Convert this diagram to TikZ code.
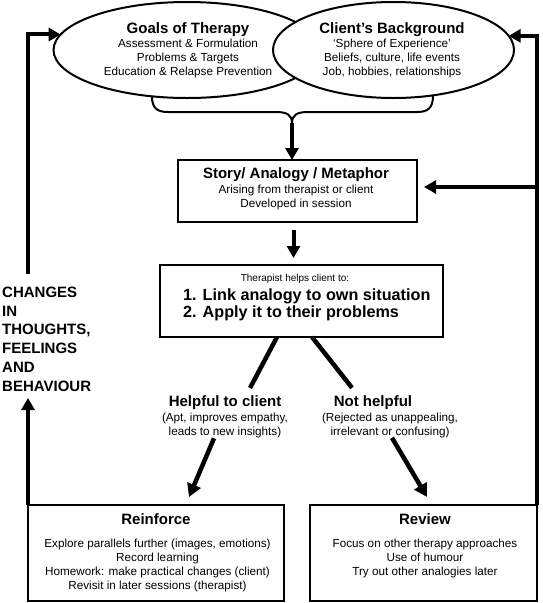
\documentclass[tikz,border=0pt]{standalone}
\usepackage{fontspec}
\setmainfont{Liberation Sans}
\usetikzlibrary{arrows.meta,shapes.geometric,calc}
\newcommand{\fsm}{\fontsize{11.7}{14}\selectfont}
\newcommand{\fsmb}{\fontsize{11.7}{13.8}\selectfont}
\newcommand{\fxs}{\fontsize{10}{12}\selectfont}
\newcommand{\fttl}{\fontsize{15}{14}\selectfont\bfseries}
\newcommand{\fbig}{\fontsize{16.2}{17}\selectfont\bfseries}
\newcommand{\fchg}{\fontsize{15}{18.8}\selectfont\bfseries}
\begin{document}
\begin{tikzpicture}[x=1pt,y=-1pt,
  ell/.style={draw, line width=2pt, ellipse, minimum height=96pt, inner sep=0pt, outer sep=0pt},
  box/.style={draw, line width=2.4pt, rectangle, inner sep=0pt, outer sep=0pt},
  txt/.style={align=center, inner sep=0pt, font=\fsm},
  ttl/.style={anchor=base, inner sep=0pt, font=\fttl},
  brace/.style={line width=2pt},
  arr/.style={line width=4pt, -{Triangle[length=12pt,width=13pt]}},
  diag/.style={line width=4.5pt},
  darr/.style={line width=4.5pt, -{Triangle[length=13pt,width=14pt]}},
]
\useasboundingbox (0,0) rectangle (542,603);

% ellipses
\node[ell, minimum width=267pt] (goals) at (187,50) {};
\node[ell, fill=white, minimum width=241pt] (bg) at (393.5,50) {};
\node[txt, anchor=north] (goalsT) at (188,22.5) {{\fttl Goals of Therapy}\\ Assessment \& Formulation\\ Problems \& Targets\\ Education \& Relapse Prevention};
\node[txt, anchor=north] (bgT) at (392,22.5) {{\fttl Client’s Background}\\ ‘Sphere of Experience’\\ Beliefs, culture, life events\\ Job, hobbies, relationships};

% story box
\node[box, minimum width=239pt, minimum height=62pt] (story) at (297.5,191) {};
\node[txt, anchor=north] (storyT) at (296,167.5) {{\fttl Story/ Analogy / Metaphor}\\[0.8pt] Arising from therapist or client\\ Developed in session};

% link box
\node[box, minimum width=283pt, minimum height=72pt] (link) at (301.5,301) {};
\node[anchor=base, inner sep=0pt, font=\fxs] (linkA) at (295,281.6) {Therapist helps client to:};
\node[anchor=north west, inner sep=0pt, align=left, font=\fbig] (linkB) at (183,288.2) {1. Link analogy to own situation\\2. Apply it to their problems};

% changes label
\node[anchor=north west, inner sep=0pt, align=left, font=\fchg] (chg) at (2,286.6) {CHANGES\\IN\\THOUGHTS,\\FEELINGS\\AND\\BEHAVIOUR};

% outcomes
\node[txt, anchor=north] (helpT) at (225,395.6) {{\fttl Helpful to client}\\[0.5pt] (Apt, improves empathy,\\ leads to new insights)};
\node[ttl] (notT) at (373,406.5) {Not helpful};
\node[txt, anchor=north] (notS) at (390,412.5) {(Rejected as unappealing,\\ irrelevant or confusing)};

% bottom boxes
\node[box, minimum width=256pt, minimum height=96pt] (reinforce) at (156,553) {};
\node[ttl] (reinT) at (156,524) {Reinforce};
\node[txt, anchor=north, font=\fsmb] (reinB) at (157.5,539) {Explore parallels further (images, emotions)\\ Record learning\\ Homework: make practical changes (client)\\ Revisit in later sessions (therapist)};
\node[box, minimum width=227pt, minimum height=96pt] (review) at (423.5,553) {};
\node[ttl] (revT) at (425,524) {Review};
\node[txt, anchor=north, font=\fsmb] (revB) at (425,539) {Focus on other therapy approaches\\ Use of humour\\ Try out other analogies later};

% coordinates
\coordinate (CHtop) at (28,274);
\coordinate (CHtip) at (28,398);
\coordinate (Rmid) at (537,187);
\coordinate (brL) at (152,96.5);
\coordinate (brR) at (433,95.5);
\coordinate (brM) at (292,123);
\coordinate (sA) at ([xshift=-4pt]story.south);

% feedback loops
\draw[arr] (CHtop) |- (goals.173.3);
\draw[arr] (reinforce.north west) -- (CHtip);
\draw[arr] (review.north east) |- (bg.7.5);
\draw[arr, shorten >=7pt] (Rmid) -- (Rmid -| story.east);

% brace
\draw[brace] (brL) .. controls (152,108) and (157,112) .. (168,112) -- (276,112) .. controls (287,112) and (292,115) .. (brM);
\draw[brace] (brR) .. controls (433,108) and (428,112) .. (417,112) -- (308,112) .. controls (297,112) and (292,115) .. (brM);
\draw[arr] (brM) -- (brM |- story.north);
\draw[arr, shorten <=8pt, shorten >=7pt] (sA) -- (sA |- link.north);

% branches
\draw[diag] ($(link.south)+(-24.5,0)$) -- ($(helpT.north)+(25,-7.6)$);
\draw[diag] ($(link.south)+(10.5,0)$) -- ($(notT.north)+(-21,-7.6)$);
\draw[darr] ($(helpT.south)+(-11,0.5)$) -- ($(reinforce.north)+(33,-8)$);
\draw[darr] ($(notS.south)+(2,0)$) -- ($(review.north)+(3.5,-8)$);
\end{tikzpicture}
\end{document}
